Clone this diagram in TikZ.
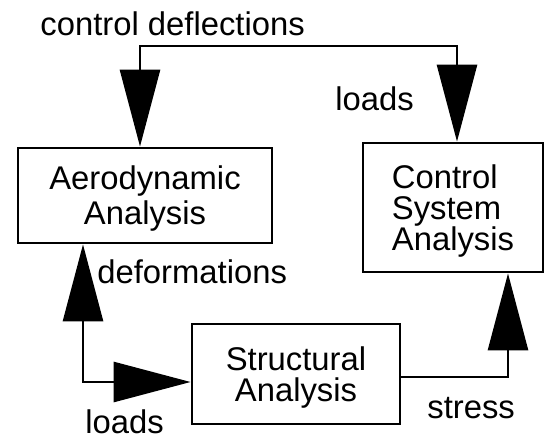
\documentclass[tikz,border=0pt]{standalone}
\usepackage{fontspec}
\setmainfont{Liberation Sans}
\usetikzlibrary{arrows.meta}

\begin{document}
\begin{tikzpicture}[
    x=0.5pt, y=-0.5pt,
    every node/.style={font=\fontsize{16.4}{15.5}\selectfont},
    block/.style={draw, rectangle, line width=1.4pt, text depth=0pt},
    tag/.style={anchor=base west, inner sep=0pt},
    arrow/.style={line width=1.4pt, >={Triangle[length=38.5pt, width=20pt]}}
]
\useasboundingbox (0,0) rectangle (547,440);

\node (aero)   [block, minimum width=127pt, minimum height=47.5pt, align=center,
  font=\fontsize{16.4}{17.5}\selectfont] at (145,195.5) {Aerodynamic\\Analysis};
\node (ctrl)   [block, minimum width=90pt, minimum height=64.5pt, align=left]
  at (453,207.5) {Control\\System\\Analysis};
\node (struct) [block, minimum width=104pt, minimum height=50pt, align=center]
  at (296,374) {Structural\\Analysis};

\node (cdtag)     [tag] at (40,35)   {control deflections};
\node (loadstop)  [tag] at (335,110) {loads};
\node (deftag)    [tag] at (97,283)  {deformations};
\node (loadsbot)  [tag] at (85,433)  {loads};
\node (stresstag) [tag] at (427,418) {stress};

\coordinate (cdl) at (140,46);
\coordinate (cdr) at (457,46);
\coordinate (lc)  at (83,382);
\coordinate (rc)  at (508,377);

\draw [arrow,<->] (cdl |- aero.north) -- (cdl) -- (cdr) -- (cdr |- ctrl.north);
\draw [arrow,<->] (lc |- aero.south) -- (lc) -- (lc -| struct.west);
\draw [arrow,->]  (rc -| struct.east) -- (rc) -- (rc |- ctrl.south);
\end{tikzpicture}
\end{document}
